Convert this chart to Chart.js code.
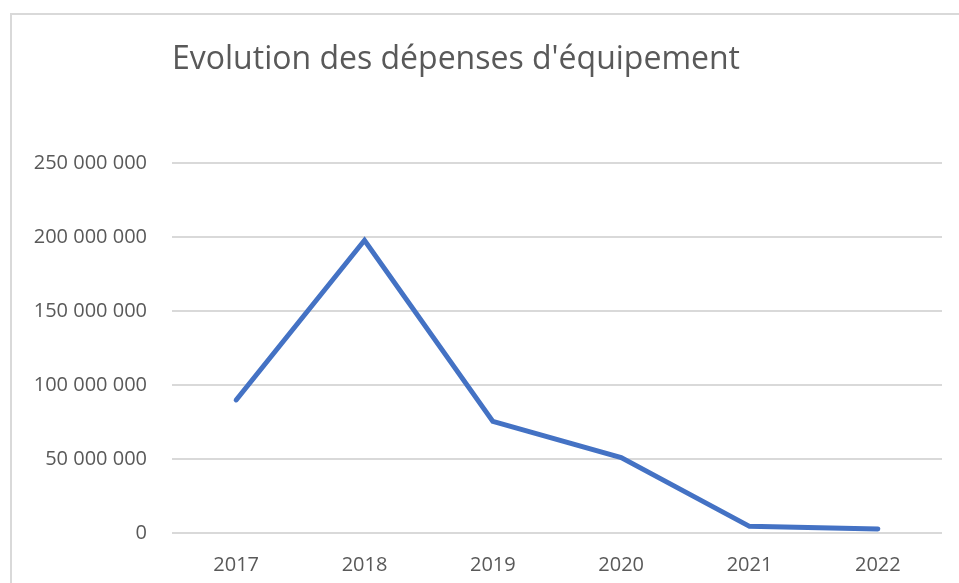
<!DOCTYPE html>
<html>
<head>
<meta charset="utf-8">
<script src="https://cdn.jsdelivr.net/npm/chart.js@4"></script>
<style>
  html, body { margin: 0; padding: 0; background: #fff; }
  #frame { position: absolute; left: 10px; top: 13px; width: 960px; height: 600px; border: 2px solid #d9d9d9; box-sizing: border-box; }
  #wrap { position: absolute; left: 0; top: 0; width: 959px; height: 583px; }
</style>
</head>
<body>
<div id="frame"></div>
<div id="wrap"><canvas id="c" width="959" height="583"></canvas></div>
<script>
const chartTitle = "Evolution des dépenses d'équipement";
const years = ["2017", "2018", "2019", "2020", "2021", "2022"];
const depenses = [90000000, 198000000, 75500000, 51000000, 4500000, 2700000];
const yTicks = [0, 50000000, 100000000, 150000000, 200000000, 250000000];

function fmt(v) {
  return String(Math.round(v)).replace(/\B(?=(\d{3})+(?!\d))/g, " ");
}

const FONT = "'Open Sans', 'Noto Sans', sans-serif";

new Chart(document.getElementById('c'), {
  type: 'line',
  data: {
    labels: years,
    datasets: [{
      label: chartTitle,
      data: depenses,
      borderColor: '#4472C4',
      backgroundColor: '#4472C4',
      borderWidth: 5,
      pointRadius: 0,
      pointHoverRadius: 0,
      tension: 0,
      borderCapStyle: 'round',
      borderJoinStyle: 'miter',
      fill: false
    }]
  },
  options: {
    responsive: false,
    animation: false,
    devicePixelRatio: 1,
    layout: { padding: { left: 0, right: 17, top: 41, bottom: 6 } },
    plugins: {
      legend: { display: false },
      tooltip: { enabled: false },
      title: {
        display: true,
        text: chartTitle,
        align: 'start',
        fullSize: false,
        color: '#595959',
        font: { family: FONT, size: 32, weight: 'normal' },
        padding: { top: 0, bottom: 84 }
      }
    },
    scales: {
      x: {
        offset: true,
        afterFit: (s) => { s.height = 44; },
        grid: { display: false, drawTicks: false },
        border: { display: false },
        ticks: { color: '#595959', font: { family: FONT, size: 20 }, padding: 20 }
      },
      y: {
        min: 0,
        max: 250000000,
        afterBuildTicks: (s) => { s.ticks = yTicks.map(v => ({ value: v })); },
        afterFit: (s) => { s.width = 172; },
        grid: { color: '#d9d9d9', lineWidth: 2, drawTicks: false },
        border: { display: false },
        ticks: {
          color: '#595959',
          font: { family: FONT, size: 20 },
          padding: 25,
          callback: (v) => fmt(v)
        }
      }
    }
  }
});
</script>
</body>
</html>
